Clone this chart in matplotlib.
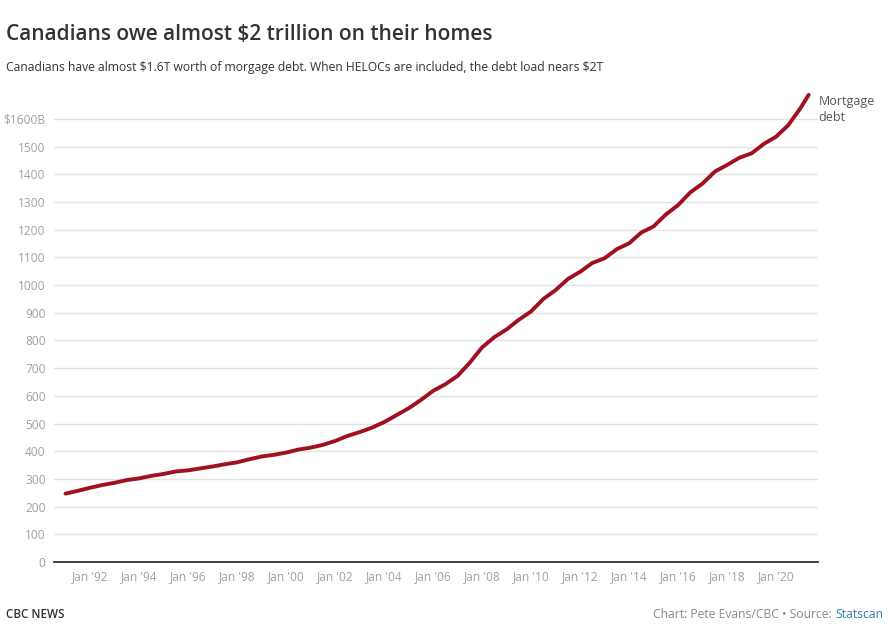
import matplotlib
matplotlib.use("Agg")
import matplotlib.pyplot as plt
import numpy as np

# Data: mortgage debt in $B, semi-annual readings (decimal year)
years = [1991.0, 1991.5, 1992.0, 1992.5, 1993.0, 1993.5, 1994.0, 1994.5,
         1995.0, 1995.5, 1996.0, 1996.5, 1997.0, 1997.5, 1998.0, 1998.5,
         1999.0, 1999.5, 2000.0, 2000.5, 2001.0, 2001.5, 2002.0, 2002.5,
         2003.0, 2003.5, 2004.0, 2004.5, 2005.0, 2005.5, 2006.0, 2006.5,
         2007.0, 2007.5, 2008.0, 2008.5, 2009.0, 2009.5, 2010.0, 2010.5,
         2011.0, 2011.5, 2012.0, 2012.5, 2013.0, 2013.5, 2014.0, 2014.5,
         2015.0, 2015.5, 2016.0, 2016.5, 2017.0, 2017.5, 2018.0, 2018.5,
         2019.0, 2019.5, 2020.0, 2020.5, 2021.0, 2021.33]
mortgage_debt = [247, 257, 268, 278, 286, 296, 302, 311,
                 318, 327, 331, 338, 345, 353, 360, 371,
                 381, 387, 395, 406, 413, 423, 437, 455,
                 469, 485, 505, 530, 555, 585, 618, 642,
                 672, 720, 775, 812, 840, 875, 905, 950,
                 982, 1022, 1048, 1080, 1097, 1130, 1151, 1190,
                 1212, 1255, 1289, 1335, 1367, 1410, 1434, 1460,
                 1476, 1510, 1536, 1578, 1640, 1687]

y_ticks = [0, 100, 200, 300, 400, 500, 600, 700, 800, 900, 1000,
           1100, 1200, 1300, 1400, 1500, 1600]
y_tick_labels = [str(v) for v in y_ticks[:-1]] + ["$1600B"]
x_ticks = [1992, 1994, 1996, 1998, 2000, 2002, 2004, 2006, 2008, 2010,
           2012, 2014, 2016, 2018, 2020]
x_tick_labels = ["Jan '92", "Jan '94", "Jan '96", "Jan '98", "Jan '00",
                 "Jan '02", "Jan '04", "Jan '06", "Jan '08", "Jan '10",
                 "Jan '12", "Jan '14", "Jan '16", "Jan '18", "Jan '20"]

plt.rcParams['font.family'] = ['Open Sans', 'DejaVu Sans']
plt.rcParams['text.parse_math'] = False

W, H = 893, 639
fig = plt.figure(figsize=(W / 100, H / 100), dpi=100)
ax = fig.add_axes([54 / W, 1 - 562 / H, (818 - 54) / W, (562 - 91.3) / H])

ax.plot(years, mortgage_debt, color="#a0111f", lw=2.8, solid_capstyle="round",
        solid_joinstyle="round", zorder=3)

ax.set_xlim(1990.53, 2021.71)
ax.set_ylim(0, 1700)
ax.set_yticks(y_ticks)
ax.set_yticklabels(y_tick_labels)
ax.set_xticks(x_ticks)
ax.set_xticklabels(x_tick_labels)
ax.tick_params(axis="both", length=0, labelsize=8.6, colors="#a0a0a0")
ax.tick_params(axis="y", pad=6)
ax.tick_params(axis="x", pad=6)
ax.grid(axis="y", color="#e3e3e3", lw=1)
ax.set_axisbelow(True)
for s in ["top", "right", "left"]:
    ax.spines[s].set_visible(False)
ax.spines["bottom"].set_color("#333333")
ax.spines["bottom"].set_linewidth(1.3)
ax.spines["bottom"].set_zorder(4)

# End label
ax.annotate("Mortgage\ndebt", xy=(years[-1], mortgage_debt[-1]),
            xycoords="data", xytext=(7, 0), textcoords="offset points",
            ha="left", va="top", fontsize=9, color="#555555", linespacing=1.3)

# Title and subtitle
fig.text(6 / W, 1 - 35 / H, "Canadians owe almost $2 trillion on their homes",
         fontsize=15, fontweight="semibold", color="#333333", va="center", ha="left")
fig.text(6 / W, 1 - 67 / H,
         "Canadians have almost $1.6T worth of morgage debt. When HELOCs are included, the debt load nears $2T",
         fontsize=8.7, color="#333333", va="center", ha="left")

# Footer
fig.text(6 / W, 1 - 615 / H, "CBC NEWS", fontsize=8.4, fontweight="semibold",
         color="#333333", va="center", ha="left")
t_src = fig.text(883 / W, 1 - 615 / H, "Statscan", fontsize=8.7, color="#2a7ab0",
                 va="center", ha="right")
fig.canvas.draw()
bb = t_src.get_window_extent(renderer=fig.canvas.get_renderer())
fig.text((bb.x0 - 3) / W, 1 - 615 / H, "Chart: Pete Evans/CBC \u2022 Source:",
         fontsize=8.7, color="#888888", va="center", ha="right")

fig.savefig("out.png", dpi=100)
